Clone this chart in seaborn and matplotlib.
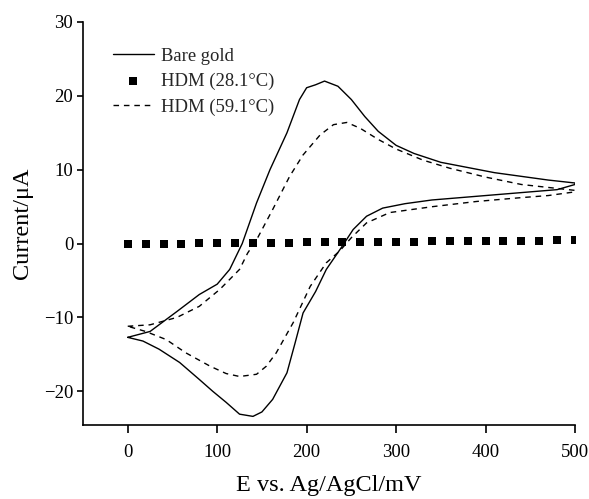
import matplotlib
matplotlib.use("Agg")
import matplotlib.pyplot as plt
import seaborn as sns
import pandas as pd

# Bare gold: anodic (forward) and cathodic (reverse) scans
bare_fwd_E = [0, 25, 55, 80, 100, 114, 128, 144, 159, 178, 192, 200, 210, 220, 235, 250,
              265, 280, 300, 320, 350, 380, 410, 440, 470, 500]
bare_fwd_I = [-12.7, -11.9, -9.2, -6.9, -5.5, -3.5, 0.0, 5.5, 10.0, 15.0, 19.5, 21.1, 21.5, 22.0,
              21.3, 19.5, 17.2, 15.2, 13.3, 12.2, 11.0, 10.3, 9.6, 9.1, 8.6, 8.2]
bare_rev_E = [500, 480, 450, 420, 380, 340, 310, 285, 267, 252, 239, 222, 210, 196, 187, 178,
              162, 150, 140, 125, 110, 95, 80, 58, 35, 17, 0]
bare_rev_I = [8.0, 7.3, 7.0, 6.7, 6.3, 5.9, 5.4, 4.8, 3.7, 1.9, -0.5, -3.5, -6.5, -9.4, -13.5,
              -17.5, -21.1, -22.8, -23.4, -23.1, -21.5, -20.0, -18.4, -16.1, -14.3, -13.2, -12.7]

# HDM at 59.1 C
hot_fwd_E = [0, 25, 55, 80, 103, 125, 134, 144, 162, 181, 196, 215, 230, 245, 260, 280, 300,
             330, 360, 400, 440, 470, 500]
hot_fwd_I = [-11.2, -11.0, -10.0, -8.5, -6.2, -3.5, -1.3, 0.5, 4.6, 9.1, 12.0, 14.7, 16.1, 16.4,
             15.6, 14.1, 12.8, 11.3, 10.2, 9.0, 8.0, 7.6, 7.2]
hot_rev_E = [500, 470, 438, 390, 341, 293, 267, 250, 237, 222, 204, 185, 166, 155, 144, 125,
             110, 92, 65, 43, 20, 0]
hot_rev_I = [7.0, 6.5, 6.2, 5.7, 5.0, 4.2, 2.8, 0.8, -1.0, -2.6, -5.8, -10.7, -14.8, -16.6,
             -17.7, -18.0, -17.6, -16.6, -14.8, -13.0, -11.9, -11.2]

# HDM at 28.1 C (flat response)
cold_E = [0, 20, 40, 60, 80, 100, 120, 140, 160, 180, 200, 220, 240, 260, 280, 300, 320, 340,
          360, 380, 400, 420, 440, 460, 480, 500]
cold_I = [0.0, 0.0, 0.0, 0.0, 0.05, 0.05, 0.05, 0.1, 0.1, 0.1, 0.15, 0.15, 0.2, 0.2, 0.2, 0.25,
          0.25, 0.3, 0.3, 0.3, 0.35, 0.35, 0.4, 0.4, 0.45, 0.45]

bare = pd.DataFrame({"E": bare_fwd_E + bare_rev_E, "I": bare_fwd_I + bare_rev_I})
hot = pd.DataFrame({"E": hot_fwd_E + hot_rev_E, "I": hot_fwd_I + hot_rev_I})
cold = pd.DataFrame({"E": cold_E, "I": cold_I})

sns.set_theme(style="ticks")
plt.rcParams["font.family"] = ["Liberation Serif", "DejaVu Serif"]

fig = plt.figure(figsize=(5.89, 4.99), dpi=100)
ax = fig.add_axes([83 / 589, 1 - 424.5 / 499, (575 - 83) / 589, (424.5 - 22) / 499])

sns.lineplot(data=bare, x="E", y="I", sort=False, estimator=None, color="black",
             linewidth=1.0, label="Bare gold", ax=ax)
sns.scatterplot(data=cold, x="E", y="I", marker="s", s=36, color="black", edgecolor="black",
                linewidth=0, label="HDM (28.1°C)", ax=ax, zorder=3)
sns.lineplot(data=hot, x="E", y="I", sort=False, estimator=None, color="black",
             linewidth=1.0, linestyle=(0, (4, 3.5)), label="HDM (59.1°C)", ax=ax)

ax.set_xlim(-50, 500)
ax.set_ylim(-24.5, 30)
ax.set_xticks([0, 100, 200, 300, 400, 500])
ax.set_yticks([-20, -10, 0, 10, 20, 30])
ax.set_xlabel("E vs. Ag/AgCl/mV", fontsize=17.5, color="black", labelpad=10)
ax.set_ylabel("Current/μA", fontsize=17.5, color="black", labelpad=8)

sns.despine(ax=ax)
for side in ["left", "bottom"]:
    ax.spines[side].set_linewidth(1.2)
    ax.spines[side].set_color("black")
ax.tick_params(axis="x", direction="out", length=6, width=1.2, colors="black",
               labelsize=13.5, pad=8)
ax.tick_params(axis="y", direction="out", length=4, width=1.2, colors="black",
               labelsize=13.5, pad=3)

handles, labels = ax.get_legend_handles_labels()
leg = ax.legend(handles, labels, loc="upper left", bbox_to_anchor=(0.045, 0.955), frameon=False,
                fontsize=13.4, handlelength=2.2, handletextpad=0.4, labelspacing=0.45,
                numpoints=1, scatterpoints=1, borderaxespad=0)

fig.savefig("out.png", dpi=100)
